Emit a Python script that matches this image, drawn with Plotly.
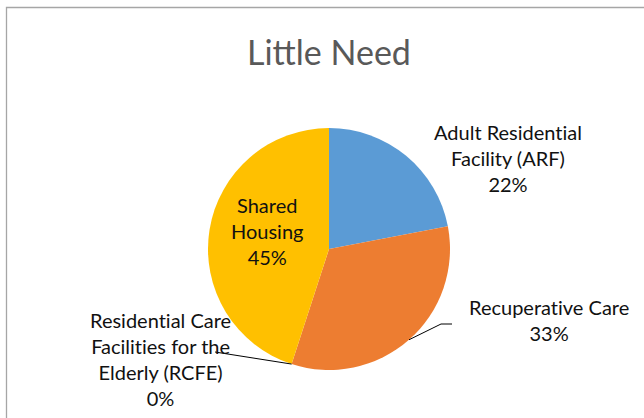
import math
import plotly.graph_objects as go

# ---- data ----
categories = [
    "Adult Residential Facility (ARF)",
    "Recuperative Care",
    "Residential Care Facilities for the Elderly (RCFE)",
    "Shared Housing",
]
label_lines = [
    ["Adult Residential", "Facility (ARF)"],
    ["Recuperative Care"],
    ["Residential Care", "Facilities for the", "Elderly (RCFE)"],
    ["Shared", "Housing"],
]
values = [22, 33, 0, 45]
colors = ["#5B9BD5", "#ED7D31", "#A5A5A5", "#FFC000"]
title_text = "Little Need"

# ---- canvas geometry (pixels) ----
W, H = 644, 418
CX, CY, R = 329, 249, 121


def px(x):
    return x / W


def py(y):
    return 1 - y / H


def no_liga(s):
    """Keep Lato from fusing 't'+'i' into a ligature glyph."""
    return s.replace("ti", "t\u200ci")


def edge_point(frac):
    """Point on the pie rim at a cumulative fraction, clockwise from 12 o'clock."""
    a = 2 * math.pi * frac
    return CX + R * math.sin(a), CY - R * math.cos(a)


total = sum(values)
cum = [sum(values[:i]) / total for i in range(len(values))]
mid = [(sum(values[:i]) + values[i] / 2) / total for i in range(len(values))]

# label centres and leader-line elbows (pixels)
label_pos = [(508, 158), (549, 320), (160, 359), (267, 231)]
leaders = {
    1: [(441, 324), (452, 324)],
    2: [(215, 352)],
}

fig = go.Figure(
    go.Pie(
        labels=categories,
        values=values,
        marker=dict(colors=colors, line=dict(width=0)),
        sort=False,
        direction="clockwise",
        rotation=0,
        textinfo="none",
        hoverinfo="label+percent",
        showlegend=False,
        domain=dict(x=[px(CX - R), px(CX + R)], y=[py(CY + R), py(CY - R)]),
    )
)

annotations = [
    dict(
        text=title_text,
        x=px(CX), y=py(52), xref="paper", yref="paper",
        xanchor="center", yanchor="middle", showarrow=False,
        font=dict(family="Lato", size=34, color="#595959"),
    )
]
for i, lines in enumerate(label_lines):
    pct = round(100 * values[i] / total)
    text = "<br>".join([no_liga(s) for s in lines] + [f"{pct}%"])
    lx, ly = label_pos[i]
    annotations.append(
        dict(
            text=text,
            x=px(lx), y=py(ly), xref="paper", yref="paper",
            xanchor="center", yanchor="middle", align="center",
            showarrow=False,
            font=dict(family="Lato", size=20, color="#111111"),
        )
    )

shapes = [
    # chart-area border
    dict(
        type="rect", xref="paper", yref="paper",
        x0=px(6.5), y0=py(430), x1=px(660), y1=py(7.5),
        line=dict(color="#A6A6A6", width=1.3), fillcolor="rgba(0,0,0,0)",
    )
]
# leader lines: start on the rim (mid-angle of slice, or slice boundary for 0%)
for i, pts in leaders.items():
    frac = mid[i] if values[i] > 0 else cum[i]
    path = [edge_point(frac)] + pts
    for (x0, y0), (x1, y1) in zip(path[:-1], path[1:]):
        shapes.append(
            dict(
                type="line", xref="paper", yref="paper",
                x0=px(x0), y0=py(y0), x1=px(x1), y1=py(y1),
                line=dict(color="#000000", width=1),
            )
        )

fig.update_layout(
    width=W, height=H,
    margin=dict(l=0, r=0, t=0, b=0),
    paper_bgcolor="white",
    plot_bgcolor="white",
    annotations=annotations,
    shapes=shapes,
)

fig.write_html("out.html")
